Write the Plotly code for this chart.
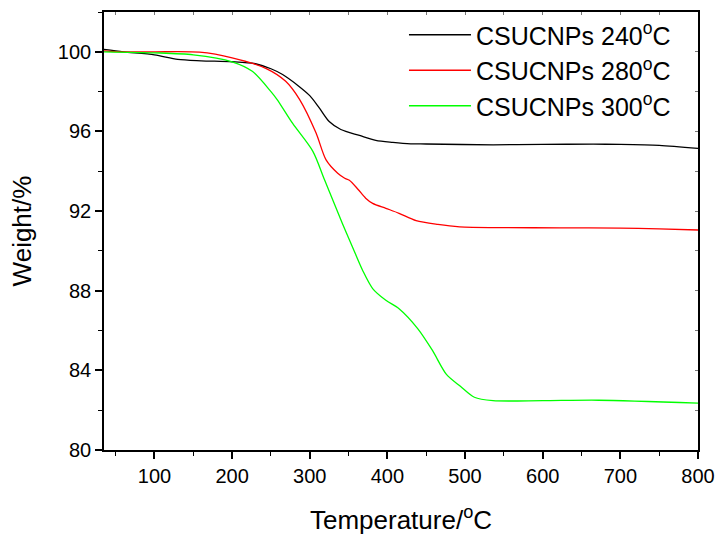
import plotly.graph_objects as go

# CSUCNPs 240 °C
t_240 = [35, 60, 100, 130, 160, 200, 230, 250, 265, 285, 300, 312, 325, 340, 364, 385, 407, 430, 450, 536, 600, 665, 700, 750, 800]
w_240 = [100.12, 100.0, 99.85, 99.62, 99.55, 99.5, 99.4, 99.15, 98.86, 98.3, 97.8, 97.2, 96.5, 96.1, 95.8, 95.55, 95.45, 95.38, 95.37, 95.33, 95.35, 95.36, 95.35, 95.3, 95.15]

# CSUCNPs 280 °C
t_280 = [35, 60, 100, 158, 200, 244, 269, 287, 308, 321, 336, 345, 351, 362, 372, 381, 398, 415, 437, 465, 493, 550, 622, 700, 750, 800]
w_280 = [100.05, 100.0, 100.0, 99.98, 99.7, 99.16, 98.52, 97.6, 95.93, 94.57, 93.9, 93.65, 93.55, 93.1, 92.65, 92.39, 92.14, 91.89, 91.52, 91.33, 91.21, 91.17, 91.16, 91.14, 91.11, 91.05]

# CSUCNPs 300 °C
t_300 = [35, 100, 150, 200, 226, 250, 258, 278, 304, 319, 342, 355, 368, 381, 398, 415, 439, 458, 476, 494, 512, 536, 600, 672, 800]
w_300 = [100.0, 99.95, 99.85, 99.5, 99.02, 98.0, 97.6, 96.4, 95.0, 93.57, 91.38, 90.2, 89.03, 88.11, 87.52, 87.1, 86.1, 85.0, 83.8, 83.2, 82.65, 82.48, 82.48, 82.5, 82.35]

names = ["CSUCNPs 240<sup>o</sup>C", "CSUCNPs 280<sup>o</sup>C", "CSUCNPs 300<sup>o</sup>C"]
colors = ["#000000", "#FF0000", "#00FF00"]

FONT = "Arial, Liberation Sans, sans-serif"

fig = go.Figure()
for t, w, n, c in zip([t_240, t_280, t_300], [w_240, w_280, w_300], names, colors):
    fig.add_trace(go.Scatter(x=t, y=w, mode="lines", name=n,
                             line=dict(color=c, width=1.3, shape="spline", smoothing=0.8)))

# invisible helper trace so the top/right axes (inner ticks) are drawn
fig.add_trace(go.Scatter(x=[t_240[0], t_240[-1]], y=[w_240[0], w_240[-1]], xaxis="x2", yaxis="y2",
                         mode="lines", line=dict(width=0, color="rgba(0,0,0,0)"),
                         showlegend=False, hoverinfo="skip"))

fig.update_layout(
    width=719, height=535,
    margin=dict(l=104, r=21, t=12, b=85, autoexpand=False),
    paper_bgcolor="white", plot_bgcolor="white",
    font=dict(family=FONT, size=20, color="black"),
    showlegend=True,
    legend=dict(x=0.505, y=1.0, xanchor="left", yanchor="top",
                bgcolor="rgba(0,0,0,0)", font=dict(size=25, family=FONT),
                itemwidth=62, tracegroupgap=0),
    xaxis=dict(range=[35, 800], dtick=100, showgrid=False, zeroline=False,
               showline=True, linecolor="black", linewidth=1.6,
               ticks="outside", ticklen=7, tickwidth=1.5, tickcolor="black",
               minor=dict(dtick=50, ticks="outside", ticklen=4, tickwidth=1.2, tickcolor="black"),
               tickfont=dict(size=20),
               title=dict(text="Temperature/<sup>o</sup>C", font=dict(size=26), standoff=25)),
    yaxis=dict(range=[80, 102], dtick=4, showgrid=False, zeroline=False,
               showline=True, linecolor="black", linewidth=1.6,
               ticks="outside", ticklen=7, tickwidth=1.5, tickcolor="black",
               minor=dict(dtick=2, ticks="outside", ticklen=4, tickwidth=1.2, tickcolor="black"),
               tickfont=dict(size=20),
               title=dict(text="Weight/%", font=dict(size=26), standoff=19)),
    xaxis2=dict(range=[35, 800], overlaying="x", side="top", dtick=50, showgrid=False,
                zeroline=False, showline=True, linecolor="black", linewidth=1.5,
                ticks="inside", ticklen=3, tickwidth=1, tickcolor="#777777", showticklabels=False),
    yaxis2=dict(range=[80, 102], overlaying="y", side="right", dtick=2, showgrid=False,
                zeroline=False, showline=True, linecolor="black", linewidth=1.5,
                ticks="inside", ticklen=3, tickwidth=1, tickcolor="#777777", showticklabels=False),
)

fig.write_html("out.html", config={"displayModeBar": False},
               post_script="document.body.style.margin='0px';")
